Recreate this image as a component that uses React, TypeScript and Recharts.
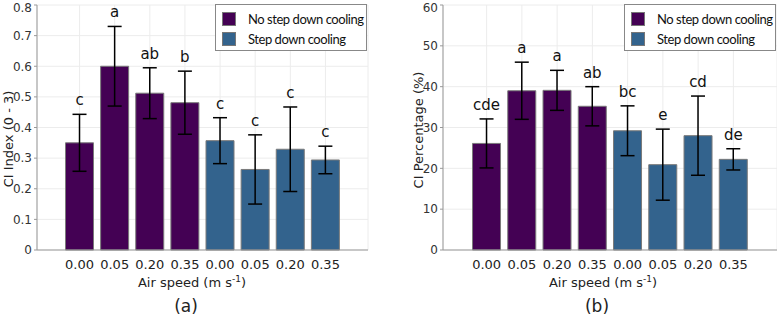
import React from "react";
import { BarChart, Bar, XAxis, YAxis, CartesianGrid, ErrorBar, Cell, LabelList, Legend } from "recharts";

const speeds = ["0.00", "0.05", "0.20", "0.35", "0.00", "0.05", "0.20", "0.35"];
const groups = ["No step down cooling", "Step down cooling"];
const groupOf = [0, 0, 0, 0, 1, 1, 1, 1];
const groupColors = ["#440154", "#33638d"];

const ciIndex = [0.35, 0.6, 0.512, 0.481, 0.357, 0.263, 0.329, 0.294];
const ciIndexErr = [0.093, 0.13, 0.083, 0.103, 0.075, 0.113, 0.138, 0.045];
const ciIndexLetters = ["c", "a", "ab", "b", "c", "c", "c", "c"];
const ciIndexTicks = [0, 0.1, 0.2, 0.3, 0.4, 0.5, 0.6, 0.7, 0.8];

const ciPct = [26.1, 39.0, 39.1, 35.2, 29.2, 20.9, 28.0, 22.2];
const ciPctErr = [6.0, 7.0, 4.9, 4.8, 6.1, 8.7, 9.7, 2.6];
const ciPctLetters = ["cde", "a", "a", "ab", "bc", "e", "cd", "de"];
const ciPctTicks = [0, 10, 20, 30, 40, 50, 60];

const FONT = "'DejaVu Sans', Verdana, sans-serif";
const LEGEND_FONT = "Lato, 'Open Sans', sans-serif";

interface PanelProps {
  left: number;
  width: number;
  yAxisWidth: number;
  marginRight: number;
  pad: number;
  values: number[];
  errs: number[];
  letters: string[];
  ticks: number[];
  fmt: (v: number) => string;
  yTitle: string;
  yTitleX: number;
  yTitleY: number;
  caption: string;
  titleX: number;
}

function LegendBox() {
  return (
    <div
      style={{
        width: 150,
        height: 45,
        border: "1px solid #888",
        background: "#fff",
        fontFamily: LEGEND_FONT,
        fontSize: 13,
        letterSpacing: -0.45,
        color: "#111",
        whiteSpace: "nowrap",
        boxSizing: "content-box",
      }}
    >
      {groups.map((g, i) => (
        <div key={g} style={{ display: "flex", alignItems: "center", height: 20, marginTop: i === 0 ? 4 : 0, paddingLeft: 6 }}>
          <span style={{ width: 14, height: 14, flex: "none", background: groupColors[i], border: "1px solid #777", boxSizing: "border-box", marginRight: 12 }} />
          <span>{g}</span>
        </div>
      ))}
    </div>
  );
}

function Panel(p: PanelProps) {
  const data = speeds.map((s, i) => ({ key: i, speed: s, value: p.values[i], err: p.errs[i] }));
  const yMax = p.ticks[p.ticks.length - 1];

  // group letter sits just above the whisker of each bar
  const letterLabel = (props: any) => {
    const { x, y, width, height, index } = props;
    const top = y - (p.errs[index] * height) / p.values[index];
    return (
      <text x={x + width / 2} y={top - 9} textAnchor="middle" fontFamily={FONT} fontSize={15} fill="#111">
        {p.letters[index]}
      </text>
    );
  };

  return (
    <div style={{ position: "absolute", left: p.left, top: 0 }}>
      <BarChart
        width={p.width}
        height={316}
        data={data}
        margin={{ top: 5, right: p.marginRight, bottom: 36, left: 0 }}
        barCategoryGap="10%"
      >
        <CartesianGrid stroke="#ececec" strokeWidth={1} />
        <XAxis
          dataKey="key"
          height={30}
          tickFormatter={(i: number) => speeds[i]}
          padding={{ left: p.pad, right: p.pad }}
          stroke="#999"
          tickLine={false}
          tickMargin={4}
          tick={{ fontFamily: FONT, fontSize: 13, fill: "#222" }}
          label={(lp: any) => {
            const vb = lp.viewBox;
            return (
              <g>
                <text x={p.titleX} y={vb.y + 37} textAnchor="middle" fontFamily={FONT} fontSize={13} fill="#222">
                  Air speed (m s
                  <tspan dy={-5} fontSize={9}>-1</tspan>
                  <tspan dy={5}>)</tspan>
                </text>
                <text x={p.titleX - 6} y={vb.y + 62} textAnchor="middle" fontFamily={FONT} fontSize={17} fill="#222">
                  {p.caption}
                </text>
              </g>
            );
          }}
        />
        <YAxis
          width={p.yAxisWidth}
          domain={[0, yMax]}
          ticks={p.ticks}
          stroke="#999"
          tickSize={3}
          tickMargin={2}
          tickFormatter={p.fmt}
          tick={{ fontFamily: FONT, fontSize: 12, fill: "#333" }}
          label={() => (
            <text
              x={p.yTitleX}
              y={p.yTitleY}
              transform={`rotate(-90 ${p.yTitleX} ${p.yTitleY})`}
              textAnchor="middle"
              dominantBaseline="central"
              fontFamily={FONT}
              fontSize={13}
              fill="#222"
            >
              {p.yTitle}
            </text>
          )}
        />
        <Legend
          layout="vertical"
          align="center"
          verticalAlign="middle"
          content={() => <LegendBox />}
          wrapperStyle={{ top: 4, left: p.width - p.marginRight - 153, width: 152 }}
        />
        <Bar dataKey="value" stroke="#7a7a7a" strokeWidth={1} isAnimationActive={false}>
          {data.map((d) => (
            <Cell key={d.key} fill={groupColors[groupOf[d.key]]} />
          ))}
          <ErrorBar dataKey="err" width={7} stroke="#000" strokeWidth={1.5} direction="y" />
          <LabelList dataKey="value" content={letterLabel} />
        </Bar>
      </BarChart>
    </div>
  );
}

export default function App() {
  return (
    <div style={{ position: "absolute", left: 0, top: 0, width: 777, height: 316, background: "#fff" }}>
      <Panel
        left={0}
        width={390}
        yAxisWidth={37}
        marginRight={22}
        pad={25}
        values={ciIndex}
        errs={ciIndexErr}
        letters={ciIndexLetters}
        ticks={ciIndexTicks}
        fmt={(v) => (v === 0 ? "0" : v.toFixed(1))}
        yTitle="CI Index (0 - 3)"
        yTitleX={8}
        yTitleY={139}
        caption="(a)"
        titleX={192}
      />
      <Panel
        left={390}
        width={387}
        yAxisWidth={53}
        marginRight={0}
        pad={26}
        values={ciPct}
        errs={ciPctErr}
        letters={ciPctLetters}
        ticks={ciPctTicks}
        fmt={(v) => String(v)}
        yTitle="CI Percentage (%)"
        yTitleX={28}
        yTitleY={130}
        caption="(b)"
        titleX={213}
      />
    </div>
  );
}
